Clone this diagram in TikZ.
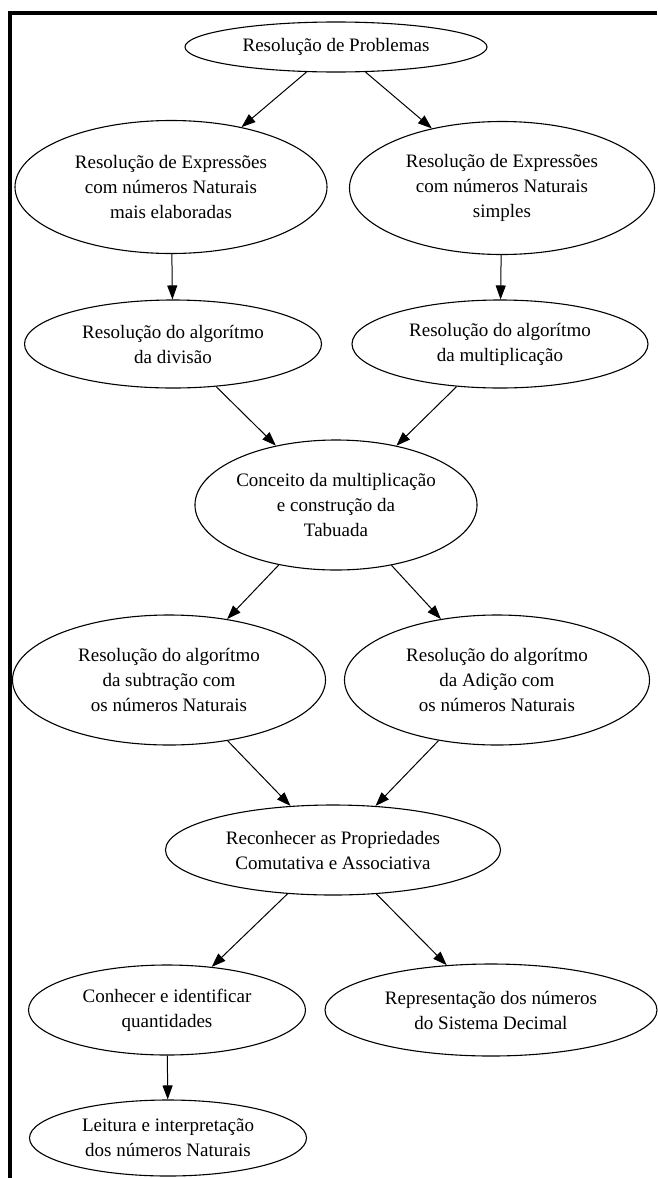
\documentclass[tikz,border=0pt]{standalone}
\usepackage{fontspec}
\setmainfont{Liberation Serif}
\usetikzlibrary{shapes.geometric,arrows.meta}
\begin{document}
\begin{tikzpicture}[x=1pt,y=-1pt,
  topic/.style={ellipse, draw, line width=1.1pt, inner sep=0pt, align=center,
    font=\fontsize{19}{25}\selectfont},
  link/.style={-{Triangle[length=14pt,width=10pt]}, line width=1pt}]
\useasboundingbox (0,0) rectangle (657,1178);
\fill[white] (0,0) rectangle (657,1178);
% page frame
\draw[line width=4pt] (10,1178) -- (10,13) -- (657,13);

\node[topic, minimum width=302pt, minimum height=50pt] (n1) at (336,47) {Resolução de Problemas};
\node[topic, minimum width=312pt, minimum height=133pt] (n2) at (171,187)
  {Resolução de Expressões\\com números Naturais\\mais elaboradas};
\node[topic, minimum width=305pt, minimum height=133pt] (n3) at (502,188)
  {Resolução de Expressões\\com números Naturais\\simples};
\node[topic, minimum width=297pt, minimum height=88pt] (n4) at (173,344)
  {Resolução do algorítmo\\da divisão};
\node[topic, minimum width=296pt, minimum height=88pt] (n5) at (500,344)
  {Resolução do algorítmo\\da multiplicação};
\node[topic, minimum width=273pt, minimum height=130pt] (n6) at (336,505)
  {Conceito da multiplicação\\e construção da\\Tabuada};
\node[topic, minimum width=313pt, minimum height=130pt] (n7) at (169,680)
  {Resolução do algorítmo\\da subtração com\\os números Naturais};
\node[topic, minimum width=305pt, minimum height=130pt] (n8) at (497,680)
  {Resolução do algorítmo\\da Adição com\\os números Naturais};
\node[topic, minimum width=335pt, minimum height=90pt] (n9) at (333,850)
  {Reconhecer as Propriedades\\Comutativa e Associativa};
\node[topic, minimum width=277pt, minimum height=90pt] (n10) at (167,1010)
  {Conhecer e identificar\\quantidades};
\node[topic, minimum width=332pt, minimum height=92pt] (n11) at (491,1010)
  {Representação dos números\\do Sistema Decimal};
\node[topic, minimum width=277pt, minimum height=76pt] (n12) at (168,1138)
  {Leitura e interpretação\\dos números Naturais};

\draw[link] (n1) -- (n2);
\draw[link] (n1) -- (n3);
\draw[link] (n2) -- (n4);
\draw[link] (n3) -- (n5);
\draw[link] (n4) -- (n6);
\draw[link] (n5) -- (n6);
\draw[link] (n6) -- (n7);
\draw[link] (n6) -- (n8);
\draw[link] (n7) -- (n9);
\draw[link] (n8) -- (n9);
\draw[link] (n9) -- (n10);
\draw[link] (n9) -- (n11);
\draw[link] (n10) -- (n12);
\end{tikzpicture}
\end{document}
